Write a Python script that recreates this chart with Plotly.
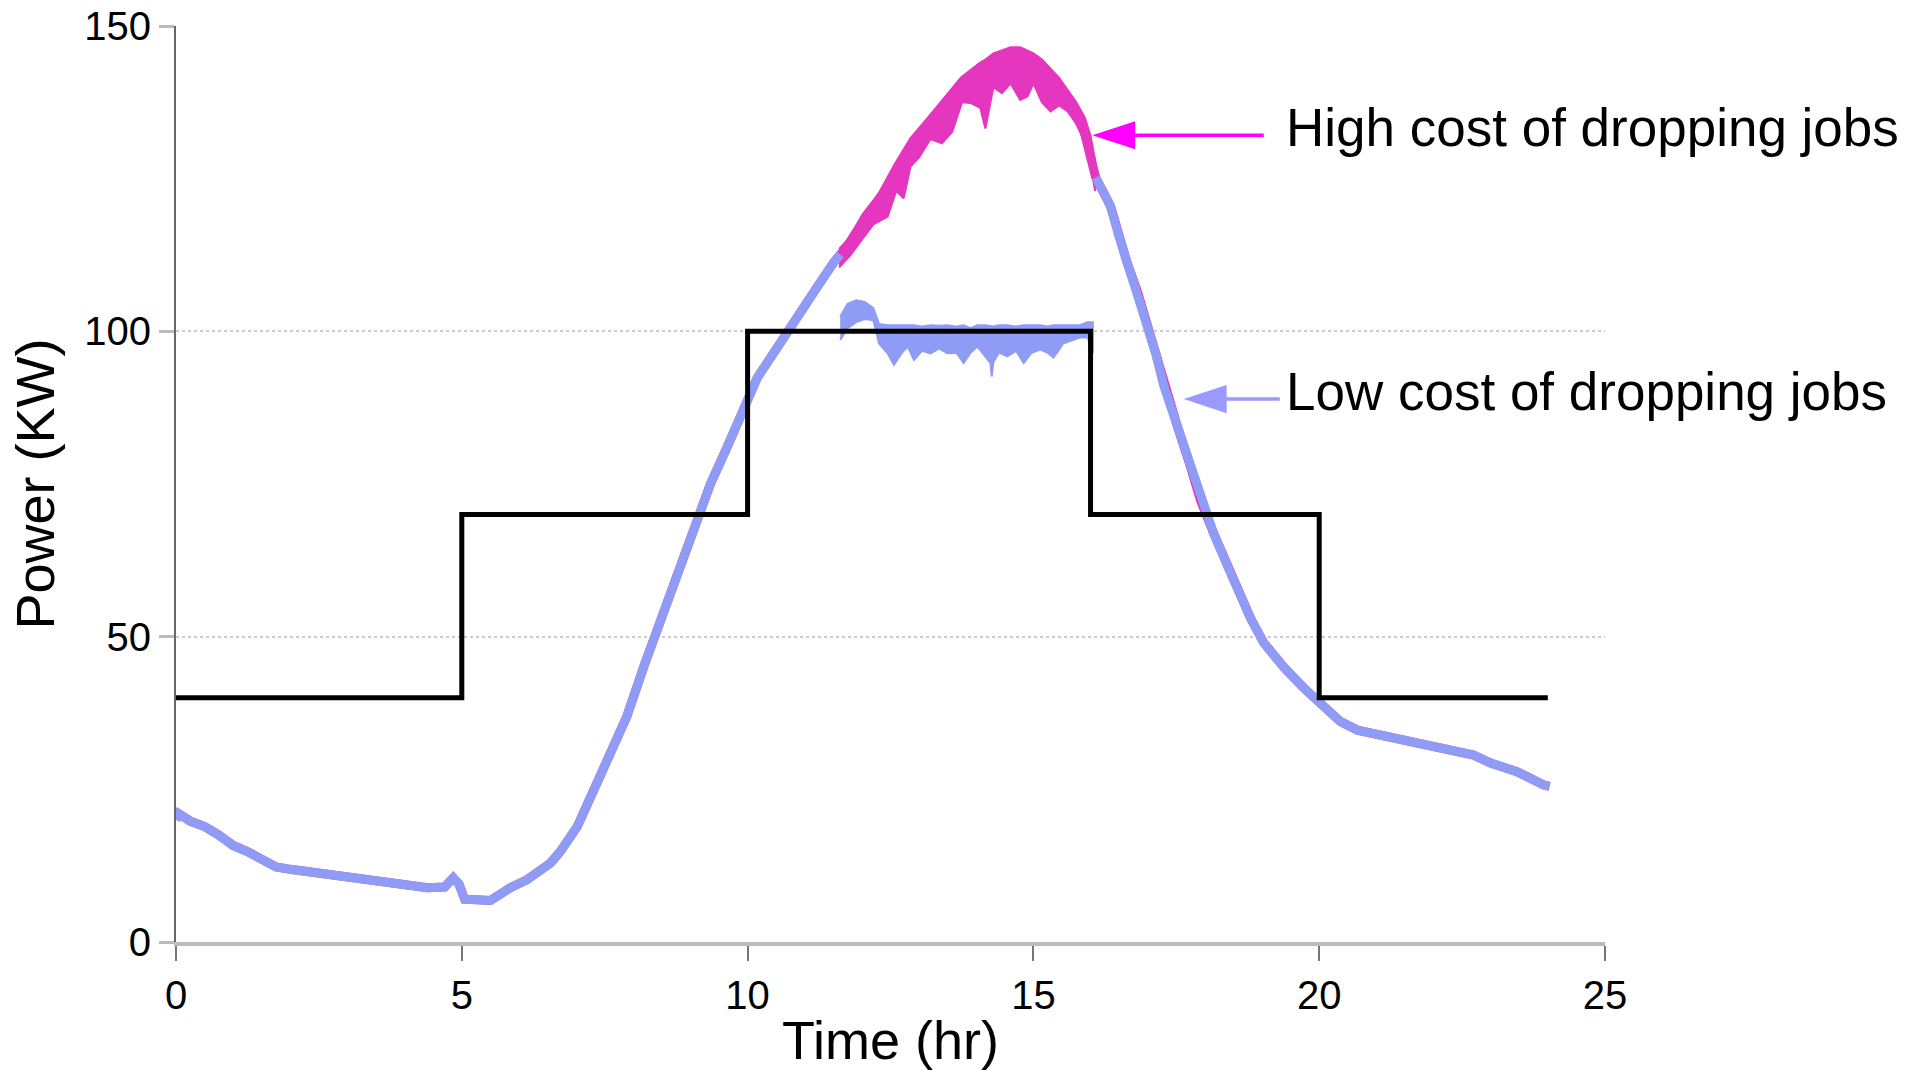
import plotly.graph_objects as go

# ---------------- data ----------------
# shared power trace (both policies follow it outside the peak)
t_curve = [0.0, 0.05, 0.25, 0.5, 0.75, 1.0, 1.25, 1.5, 1.75, 2.0, 2.5, 3.0, 3.5, 4.0, 4.4, 4.7, 4.85, 4.95,
           5.05, 5.5, 5.85, 6.14, 6.55, 6.73, 7.02, 7.31, 7.6, 7.89, 8.18, 8.47, 8.77, 9.06, 9.35, 9.64,
           9.93, 10.17, 10.34, 10.63, 10.93, 11.22, 11.5, 11.62,
           11.74, 12.03, 12.33, 12.62, 12.9, 13.2, 13.49, 13.78, 14.07, 14.37, 14.6, 14.89, 15.18, 15.42,
           15.65, 15.88, 16.0,
           16.09, 16.35, 16.49, 16.64, 16.82, 16.99, 17.14, 17.28, 17.52, 17.75, 17.92, 18.15, 18.39,
           18.57, 18.8, 19.03, 19.38, 19.73, 20.08, 20.37, 20.67, 21.25, 21.83, 22.41, 22.7, 23.0, 23.46,
           23.93, 24.03]
p_high = [20.0, 21.0, 19.8, 18.9, 17.5, 15.8, 14.8, 13.4, 12.3, 11.9, 11.2, 10.6, 10.1, 9.4, 8.9, 9.0, 10.5, 9.5,
          7.0, 6.8, 8.9, 10.2, 12.9, 14.9, 18.9, 24.9, 30.9, 37.0, 45.0, 52.3, 59.7, 67.0, 75.0, 81.0,
          87.1, 92.4, 94.8, 99.1, 103.5, 107.3, 111.2, 112.6,
          113.9, 118.2, 122.0, 127.0, 131.3, 134.6, 137.9, 141.2, 143.3, 144.4, 145.0, 143.9, 141.7, 139.2,
          136.8, 133.0, 129.2,
          125.2, 120.5, 115.8, 111.2, 106.5, 101.1, 96.4, 91.1, 84.4, 77.8, 72.4, 67.0, 61.7,
          57.7, 53.0, 49.0, 45.0, 41.6, 38.5, 36.1, 34.7, 33.6, 32.3, 31.2, 30.6, 29.3, 27.9,
          25.7, 25.5]
# low-cost policy: same trace, but absent where it drops jobs (11.6 h - 16.05 h)
p_low = [v if (t <= 11.62 or t >= 16.09) else None for t, v in zip(t_curve, p_high)]

# noisy band of the high-cost curve around the peak
t_hband = [11.6, 11.8, 12.0, 12.2, 12.45, 12.6, 12.73, 12.85, 13.0, 13.2, 13.4, 13.58, 13.75, 13.9, 14.07,
           14.16, 14.3, 14.45, 14.6, 14.77, 14.9, 15.0, 15.15, 15.3, 15.45, 15.6, 15.75, 15.9, 16.0, 16.08]
hband_top = [113.5, 115.5, 119.0, 121.5, 124.5, 127.0, 128.5, 130.5, 132.5, 135.0, 137.5, 139.0, 141.0, 142.5,
             144.0, 144.5, 145.5, 146.0, 146.5, 146.5, 146.0, 145.5, 144.5, 143.0, 141.5, 139.5, 137.5, 135.0,
             132.0, 128.0]
hband_bot = [110.5, 112.5, 115.0, 117.5, 118.8, 123.0, 121.8, 127.0, 128.5, 131.5, 130.8, 132.7, 137.5, 137.4,
             136.6, 133.2, 140.0, 139.0, 140.6, 137.9, 138.5, 140.6, 137.5, 136.0, 137.0, 136.0, 134.0, 131.0,
             127.0, 123.0]

# capped band of the low-cost curve (jobs dropped)
t_lband = [11.62, 11.75, 11.9, 12.05, 12.2, 12.3, 12.45, 12.56, 12.7, 12.8, 12.91, 13.05, 13.2, 13.35, 13.49,
           13.65, 13.78, 13.9, 14.02, 14.15, 14.25, 14.27, 14.3, 14.4, 14.54, 14.7, 14.83, 14.97, 15.12, 15.25,
           15.35, 15.45, 15.52, 15.65, 15.81, 15.95, 16.04]
lband_top = [102.4, 104.5, 105.1, 104.8, 103.8, 101.2, 101.0, 101.0, 101.0, 101.0, 101.0, 100.8, 101.0, 100.9,
             101.0, 100.8, 101.0, 100.5, 101.0, 101.0, 100.8, 100.8, 100.8, 101.0, 101.0, 100.8, 101.0, 101.0,
             101.0, 100.8, 101.0, 101.0, 101.0, 101.0, 101.0, 101.5, 101.5]
lband_bot = [98.6, 100.5, 101.5, 102.0, 101.8, 98.0, 96.4, 94.5, 96.5, 97.5, 95.3, 96.8, 96.4, 97.2, 96.4,
             96.5, 94.8, 96.5, 97.5, 96.0, 94.8, 92.6, 95.0, 96.5, 95.9, 96.8, 94.8, 96.5, 97.0, 96.5,
             95.7, 97.0, 98.0, 98.5, 99.0, 99.0, 96.4]

# power budget (step function)
t_budget = [0, 5, 10, 16, 20, 24]
p_budget = [40, 70, 100, 70, 40, 40]

# axis ticks
x_ticks = [0, 5, 10, 15, 20, 25]
y_ticks = [0, 50, 100, 150]

# annotations: label, arrow tip (t, p), arrow tail t, colour
labels = ["High cost of dropping jobs", "Low cost of dropping jobs"]
label_y = [133.3, 90.2]
arrow_tip_t = [16.03, 17.63]
arrow_tip_p = [132.1, 88.9]
arrow_tail_t = [19.03, 19.31]
arrow_colors = ["#ff00ff", "#9999ff"]

MAGENTA = "#e536c0"
BLUE = "#8e9cf6"
FONT = "Liberation Sans, Arial, Helvetica, sans-serif"

fig = go.Figure()

# high-cost trace
fig.add_trace(go.Scatter(x=t_curve, y=p_high, mode="lines",
                         line=dict(color=MAGENTA, width=9), showlegend=False, hoverinfo="skip"))
fig.add_trace(go.Scatter(x=t_hband + t_hband[::-1], y=hband_top + hband_bot[::-1], mode="lines",
                         fill="toself", fillcolor=MAGENTA, line=dict(color=MAGENTA, width=2),
                         showlegend=False, hoverinfo="skip"))
# low-cost trace
fig.add_trace(go.Scatter(x=t_curve, y=p_low, mode="lines", connectgaps=False,
                         line=dict(color=BLUE, width=9), showlegend=False, hoverinfo="skip"))
fig.add_trace(go.Scatter(x=t_lband + t_lband[::-1], y=lband_top + lband_bot[::-1], mode="lines",
                         fill="toself", fillcolor=BLUE, line=dict(color=BLUE, width=2),
                         showlegend=False, hoverinfo="skip"))
# power budget
fig.add_trace(go.Scatter(x=t_budget, y=p_budget, mode="lines", line_shape="hv",
                         line=dict(color="black", width=5), showlegend=False, hoverinfo="skip"))

# arrows + labels
HEAD_LEN = 0.75
HEAD_HALF = 2.3
for lab, ly, tx, ty, tail, col in zip(labels, label_y, arrow_tip_t, arrow_tip_p, arrow_tail_t, arrow_colors):
    fig.add_shape(type="line", xref="x", yref="y", x0=tx + HEAD_LEN * 0.9, y0=ty, x1=tail, y1=ty,
                  line=dict(color=col, width=3.5))
    fig.add_shape(type="path", xref="x", yref="y",
                  path=f"M {tx},{ty} L {tx + HEAD_LEN},{ty + HEAD_HALF} L {tx + HEAD_LEN},{ty - HEAD_HALF} Z",
                  fillcolor=col, line=dict(color=col, width=0))
    fig.add_annotation(x=19.38, y=ly, xref="x", yref="y", text=lab, showarrow=False,
                       xanchor="left", yanchor="middle",
                       font=dict(family=FONT, size=53, color="black"))

fig.update_layout(
    width=1922, height=1070,
    margin=dict(l=175.5, r=317.4, t=26, b=128, pad=0, autoexpand=False),
    paper_bgcolor="white", plot_bgcolor="white",
    font=dict(family=FONT, color="black"),
    showlegend=False,
)
fig.update_xaxes(
    range=[0, 25], tickvals=x_ticks, ticktext=[str(v) for v in x_ticks],
    showgrid=False, zeroline=False, automargin=False,
    showline=True, linecolor="#bbbbbb", linewidth=4,
    ticks="outside", ticklen=15, tickwidth=2, tickcolor="#777777",
    tickfont=dict(size=40, family=FONT, color="black"),
    title=dict(text="Time (hr)", font=dict(size=54, family=FONT, color="black"), standoff=10),
)
fig.update_yaxes(
    range=[0, 150], tickvals=y_ticks, ticktext=[str(v) for v in y_ticks],
    showgrid=True, gridcolor="#cccccc", gridwidth=2, griddash="dot",
    zeroline=False, automargin=False,
    showline=True, linecolor="#666666", linewidth=2,
    ticks="outside", ticklen=15, tickwidth=3, tickcolor="#bbbbbb",
    tickfont=dict(size=40, family=FONT, color="black"),
    title=dict(text="Power (KW)", font=dict(size=54, family=FONT, color="black"), standoff=12),
)

fig.write_html("out.html")
